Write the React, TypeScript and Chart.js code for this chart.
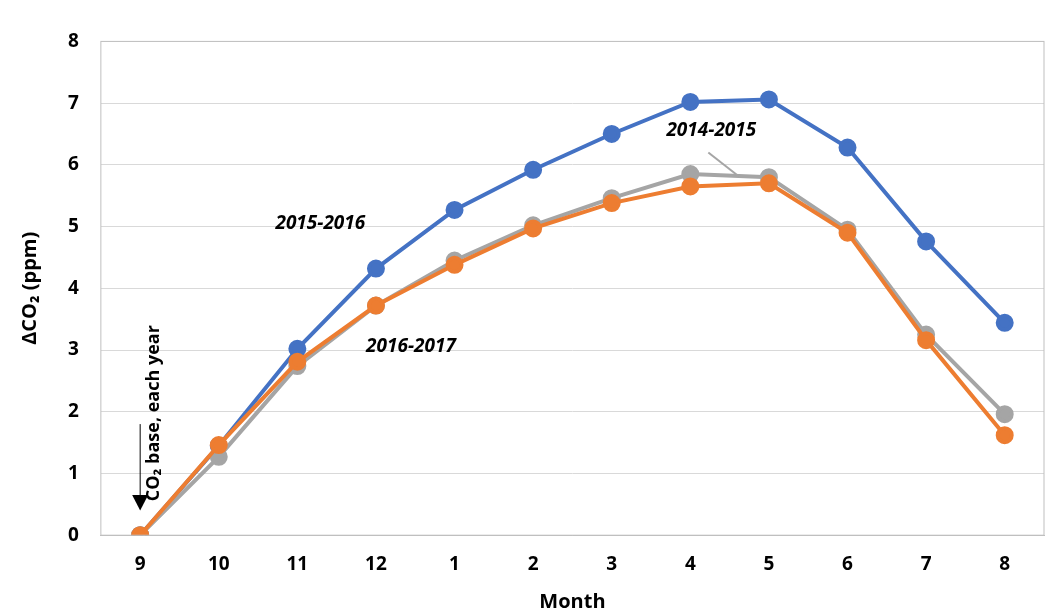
import React, { useEffect, useRef } from "react";
import { Chart, registerables } from "chart.js";
Chart.register(...registerables);

const months = ["9", "10", "11", "12", "1", "2", "3", "4", "5", "6", "7", "8"];
const s1516 = [0, 1.45, 3.02, 4.32, 5.27, 5.92, 6.5, 7.02, 7.06, 6.28, 4.76, 3.44];
const s1415 = [0, 1.27, 2.74, 3.72, 4.45, 5.02, 5.46, 5.85, 5.8, 4.95, 3.25, 1.96];
const s1617 = [0, 1.46, 2.81, 3.72, 4.38, 4.97, 5.38, 5.65, 5.7, 4.9, 3.16, 1.62];

const FONT = "'Open Sans', 'Liberation Sans', sans-serif";

const annot = {
  id: "annot",
  afterDraw(chart: any) {
    const { ctx, chartArea, scales } = chart;
    const x = scales.x, y = scales.y;
    ctx.save();
    ctx.strokeStyle = "#bfbfbf";
    ctx.lineWidth = 1;
    ctx.strokeRect(chartArea.left, chartArea.top, chartArea.right - chartArea.left, chartArea.bottom - chartArea.top);
    ctx.fillStyle = "#000";
    ctx.font = `italic bold 19px ${FONT}`;
    ctx.textAlign = "center";
    ctx.textBaseline = "middle";
    ctx.fillText("2015-2016", x.getPixelForValue(2) + 23, y.getPixelForValue(5.05));
    ctx.fillText("2016-2017", x.getPixelForValue(3) + 35, y.getPixelForValue(3.05));
    ctx.fillText("2014-2015", x.getPixelForValue(7) + 21, y.getPixelForValue(6.55));
    // leader line
    ctx.strokeStyle = "#a5a5a5";
    ctx.lineWidth = 2;
    ctx.beginPath();
    ctx.moveTo(x.getPixelForValue(7) + 18, y.getPixelForValue(6.2));
    ctx.lineTo(x.getPixelForValue(7) + 48, y.getPixelForValue(5.82));
    ctx.stroke();
    // arrow
    const ax = x.getPixelForValue(0);
    ctx.strokeStyle = "#000";
    ctx.fillStyle = "#000";
    ctx.lineWidth = 1;
    ctx.beginPath();
    ctx.moveTo(ax, y.getPixelForValue(1.8));
    ctx.lineTo(ax, y.getPixelForValue(0.6));
    ctx.stroke();
    ctx.beginPath();
    ctx.moveTo(ax - 8, y.getPixelForValue(0.65));
    ctx.lineTo(ax + 8, y.getPixelForValue(0.65));
    ctx.lineTo(ax, y.getPixelForValue(0.4));
    ctx.closePath();
    ctx.fill();
    // rotated text
    ctx.translate(ax + 14, y.getPixelForValue(0.55));
    ctx.rotate(-Math.PI / 2);
    ctx.textAlign = "left";
    ctx.font = `bold 18px ${FONT}`;
    ctx.fillText("CO₂ base, each year", 0, 0);
    ctx.restore();
  },
};

export default function App() {
  const ref = useRef<HTMLCanvasElement>(null);
  useEffect(() => {
    const mk = (label: string, data: number[], color: string, order: number) => ({
      label, data, borderColor: color, backgroundColor: color,
      borderWidth: 4, pointRadius: 7, pointHoverRadius: 7, order,
    });
    const chart = new Chart(ref.current!, {
      type: "line",
      data: {
        labels: months,
        datasets: [
          mk("2015-2016", s1516, "#4472c4", 3),
          mk("2014-2015", s1415, "#a5a5a5", 2),
          mk("2016-2017", s1617, "#ed7d31", 1),
        ],
      },
      options: {
        animation: false,
        responsive: false,
        layout: { padding: { right: 0, top: -10, left: 6 } },
        plugins: { legend: { display: false }, tooltip: { enabled: false } },
        scales: {
          x: {
            offset: true,
            grid: { display: false },
            border: { color: "#bfbfbf" },
            ticks: { color: "#000", font: { family: FONT, size: 19, weight: "bold" }, padding: 10 },
            title: { display: true, text: "Month", color: "#000", font: { family: FONT, size: 20, weight: "bold" }, padding: { top: 4, bottom: 0 } },
          },
          y: {
            min: 0, max: 8,
            grid: { color: "#d9d9d9", drawTicks: false },
            border: { display: false },
            ticks: { stepSize: 1, color: "#000", font: { family: FONT, size: 19, weight: "bold" }, padding: 22 },
            title: { display: true, text: "ΔCO₂ (ppm)", color: "#000", font: { family: FONT, size: 20, weight: "bold" } },
          },
        },
      },
      plugins: [annot],
    });
    return () => chart.destroy();
  }, []);
  return <canvas ref={ref} width={1047} height={606} />;
}
